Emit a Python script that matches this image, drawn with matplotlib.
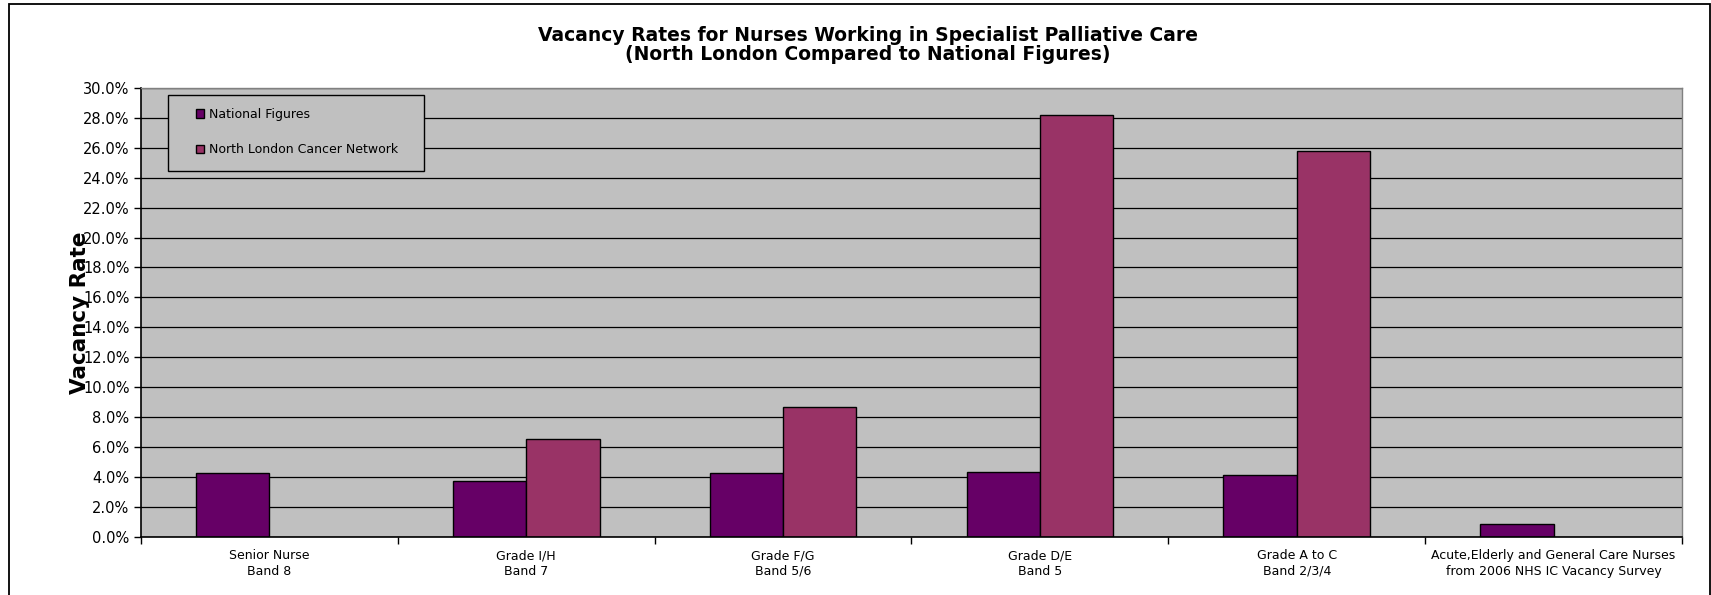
"""
Vacancy rates for specialist palliative care nurses, bar chart
"""
import numpy as np
import matplotlib
matplotlib.use("Agg")
import matplotlib.pyplot as plt
from matplotlib.patches import Rectangle
from matplotlib.ticker import FixedLocator, PercentFormatter

plt.rcParams["font.family"] = ["DejaVu Sans"]

# data (fractions)
categories = [
    "Senior Nurse\nBand 8",
    "Grade I/H\nBand 7",
    "Grade F/G\nBand 5/6",
    "Grade D/E\nBand 5",
    "Grade A to C\nBand 2/3/4",
    "Acute,Elderly and General Care Nurses\nfrom 2006 NHS IC Vacancy Survey",
]
national = [0.0427, 0.0372, 0.0424, 0.0433, 0.0412, 0.0083]
north_london = [np.nan, 0.0653, 0.0868, 0.2817, 0.2582, np.nan]
series_names = ["National Figures", "North London Cancer Network"]
colors = ["#660066", "#993366"]
title_lines = [
    "Vacancy Rates for Nurses Working in Specialist Palliative Care",
    "(North London Compared to National Figures)",
]

W, H = 1711, 595
fig = plt.figure(figsize=(W / 100, H / 100), dpi=100)
ax = fig.add_axes([141 / W, 1 - 536.7 / H, 1541 / W, 448.7 / H])
ax.set_facecolor("#C0C0C0")
ax.set_axisbelow(True)

x = np.arange(len(categories))
w = 1 / 3.5
ax.bar(x - w / 2, national, w, color=colors[0], edgecolor="black", linewidth=1,
       label=series_names[0], zorder=2)
ax.bar(x + w / 2, north_london, w, color=colors[1], edgecolor="black", linewidth=1,
       label=series_names[1], zorder=2)

ax.set_xlim(-0.5, len(categories) - 0.5)
ax.set_ylim(0, 0.30)
ax.set_yticks(np.arange(0, 0.301, 0.02))
ax.yaxis.set_major_formatter(PercentFormatter(1, decimals=1))
ax.grid(axis="y", color="black", linewidth=0.9)
ax.tick_params(axis="y", labelsize=10.5, length=5, width=1, direction="out", pad=3.2)

# ticks at category boundaries, labels in the middle
ax.xaxis.set_major_locator(FixedLocator(np.arange(-0.5, len(categories), 1.0)))
ax.xaxis.set_major_formatter(plt.NullFormatter())
ax.set_xticks(x, minor=True)
ax.set_xticklabels(categories, minor=True, fontsize=9, linespacing=1.28)
ax.tick_params(axis="x", which="major", length=5, width=1, direction="out")
ax.tick_params(axis="x", which="minor", length=0, pad=9)

for side in ["left", "bottom"]:
    ax.spines[side].set_color("black")
    ax.spines[side].set_linewidth(1.2)
for side in ["top", "right"]:
    ax.spines[side].set_color("#808080")
    ax.spines[side].set_linewidth(1)

ax.set_ylabel("Vacancy Rate", fontsize=15.5, fontweight="bold", va="center")
ax.yaxis.set_label_coords(-0.0395, 0.5)

# two-line chart title, centred on the chart area
fig.text(868 / W, 1 - 41 / H, title_lines[0], ha="center", va="baseline",
         fontsize=13.5, fontweight="bold")
fig.text(868 / W, 1 - 59.5 / H, title_lines[1], ha="center", va="baseline",
         fontsize=13.5, fontweight="bold")

# legend box
ax.add_patch(Rectangle((0.0175, 0.815), 0.166, 0.169, transform=ax.transAxes,
                       facecolor="#C0C0C0", edgecolor="black", linewidth=1,
                       zorder=3))
leg = ax.legend(loc="upper left", bbox_to_anchor=(0.0357, 0.956), frameon=False,
                fontsize=9, handlelength=0.65, handleheight=0.65,
                handletextpad=0.4, labelspacing=1.79, borderpad=0,
                borderaxespad=0)
leg.set_zorder(4)

# outer chart border
fig.add_artist(Rectangle((9 / W, -0.02), 1700.5 / W, (H - 4.3) / H + 0.02,
                         transform=fig.transFigure, fill=False,
                         edgecolor="black", linewidth=1.3, clip_on=False))

fig.savefig("out.png", dpi=100)
